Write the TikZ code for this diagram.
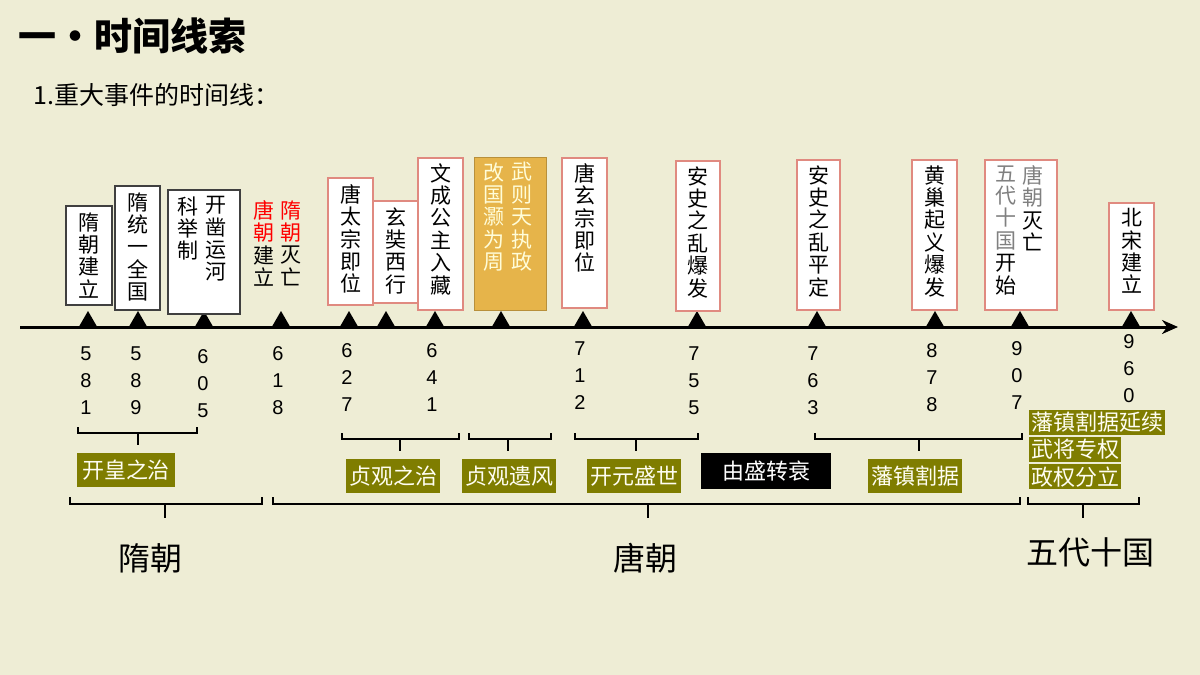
\documentclass[tikz,border=0pt]{standalone}
\usepackage{fontspec}
\setmainfont{Liberation Sans}
\newfontfamily\cjk{Noto Sans CJK SC}
\usetikzlibrary{shapes.geometric,arrows.meta}
\definecolor{bg}{HTML}{EEEDD5}
\definecolor{olive}{HTML}{7F7D00}
\definecolor{pinkb}{HTML}{E08A80}
\definecolor{gold}{HTML}{E6B44A}
\tikzset{
 vt/.style={font=\cjk\fontsize{10.5}{11.2}\selectfont,align=center,inner sep=0pt,anchor=north},
 gbox/.style={draw=black!75,fill=white,line width=0.6pt,inner sep=0pt},
 pbox/.style={draw=pinkb,fill=white,line width=0.6pt,inner sep=0pt},
 tri/.style={fill=black,regular polygon,regular polygon sides=3,inner sep=0pt,minimum size=11pt},
 yr/.style={font=\fontsize{10}{13.5}\selectfont,align=center,inner sep=0pt,anchor=north},
 lab/.style={fill=olive,text=white!95!yellow,font=\cjk\fontsize{11}{12}\selectfont,inner sep=1pt},
 brk/.style={line width=1.2pt},
 big/.style={font=\cjk\fontsize{16}{18}\selectfont,inner sep=0pt}
}
\newcommand{\bx}[6]{\node[#1,minimum width=#4*0.5pt,minimum height=#5*0.5pt] (#6) at (#2,#3) {};}
\begin{document}
\begin{tikzpicture}[x=0.5pt,y=-0.5pt]
\fill[bg] (0,0) rectangle (1200,675);
\useasboundingbox (0,0) rectangle (1200,675);
\node[font=\cjk\bfseries\fontsize{19}{20}\selectfont,anchor=west,inner sep=0pt] (title) at (18,36) {一·时间线索};
\node[font=\cjk\fontsize{12.5}{14}\selectfont,anchor=west,inner sep=0pt] (sub) at (33,95) {1.重大事件的时间线：};
% axis
\coordinate (a0) at (20,327); \coordinate (a1) at (1178,327);
\draw[line width=1.5pt,-{Stealth[length=8pt,width=7pt]}] (a0) -- (a1);
% triangles
\foreach \x/\n in {88/t1,138/t2,204/t3,281/t4,349/t5,386/t6,435/t7,501/t8,583/t9,697/t10,817/t11,935/t12,1020/t13,1131/t14}
  \node[tri] (\n) at (\x,322) {};
% boxes
\bx{gbox}{89}{255.5}{46}{99}{b1}
\node[vt] at (89,212) {隋\\朝\\建\\立};
\bx{gbox}{137.5}{248}{45}{124}{b2}
\node[vt] at (137.5,192) {隋\\统\\一\\全\\国};
\bx{gbox}{204}{252}{72}{124}{b3}
\node[vt] at (216,196) {开\\凿\\运\\河};
\node[vt] at (188,196) {科\\举\\制};
\node[vt] at (291,200) {\textcolor{red}{隋}\\\textcolor{red}{朝}\\灭\\亡};
\node[vt] (b4) at (264,200) {\textcolor{red}{唐}\\\textcolor{red}{朝}\\建\\立};
\bx{pbox}{350.5}{241.5}{45}{127}{b5}
\node[vt] at (350.5,184) {唐\\太\\宗\\即\\位};
\bx{pbox}{395.5}{252}{45}{102}{b6}
\node[vt] at (395.5,207) {玄\\奘\\西\\行};
\bx{pbox}{440.5}{234}{45}{152}{b7}
\node[vt] at (440.5,163) {文\\成\\公\\主\\入\\藏};
\node[fill=gold,draw=gold!80!black,line width=0.4pt,minimum width=36pt,minimum height=76.5pt,inner sep=0pt] (b8) at (510,233.5) {};
\node[vt,text=white!85!yellow] at (522,162) {武\\则\\天\\执\\政};
\node[vt,text=white!85!yellow] at (494,162) {改\\国\\灏\\为\\周};
\bx{pbox}{584.5}{233}{45}{150}{b9}
\node[vt] at (584.5,163) {唐\\玄\\宗\\即\\位};
\bx{pbox}{698}{236}{44}{150}{b10}
\node[vt] at (698,166) {安\\史\\之\\乱\\爆\\发};
\bx{pbox}{818.5}{235}{43}{150}{b11}
\node[vt] at (818.5,165) {安\\史\\之\\乱\\平\\定};
\bx{pbox}{934.5}{235}{45}{150}{b12}
\node[vt] at (934.5,165) {黄\\巢\\起\\义\\爆\\发};
\bx{pbox}{1021}{235}{72}{150}{b13}
\node[vt] at (1033,165) {\textcolor{gray}{唐}\\\textcolor{gray}{朝}\\灭\\亡};
\node[vt] at (1006,165) {\textcolor{gray}{五}\\\textcolor{gray}{代}\\\textcolor{gray}{十}\\\textcolor{gray}{国}\\开\\始};
\bx{pbox}{1131.5}{256.5}{45}{107}{b14}
\node[vt] at (1131.5,208) {北\\宋\\建\\立};
% years
\foreach \x/\y/\t in {86/346/5\\8\\1,136/346/5\\8\\9,203/349/6\\0\\5,278/346/6\\1\\8,347/343/6\\2\\7,432/343/6\\4\\1,580/341/7\\1\\2,694/346/7\\5\\5,813/346/7\\6\\3,932/343/8\\7\\8,1017/341/9\\0\\7,1129/334/9\\6\\0}
  \node[yr] at (\x,\y) {\t};
% small brackets
\foreach \l/\r/\m/\y/\n in {78/197/138/433/k1,342/459/400/439/k2,469/551/508/439/k3,575/698/636/439/k4,815/1022/919/439/k5}{
  \draw[brk] (\l,\y-6) -- (\l,\y) -- (\r,\y) -- (\r,\y-6);
  \coordinate (\n) at (\m,\y+12);
  \draw[brk] (\m,\y) -- (\n);
}
\node[lab,minimum width=49pt,minimum height=17pt] (l1) at (126,470) {开皇之治};
\node[lab,minimum width=47pt,minimum height=17pt] (l2) at (393,476) {贞观之治};
\node[lab,minimum width=47pt,minimum height=17pt] (l3) at (509,476) {贞观遗风};
\node[lab,minimum width=47pt,minimum height=17pt] (l4) at (634,476) {开元盛世};
\node[fill=black,text=white,font=\cjk\fontsize{11}{12}\selectfont,minimum width=65pt,minimum height=18pt,inner sep=1pt,drop shadow/.style={}] (l5) at (766,471) {由盛转衰};
\node[lab,minimum width=47pt,minimum height=17pt] (l6) at (915,476) {藩镇割据};
\node[lab,anchor=north west] (l7) at (1029,410) {藩镇割据延续};
\node[lab,anchor=north west] (l8) at (1029,437) {武将专权};
\node[lab,anchor=north west] (l9) at (1029,464) {政权分立};
% big brackets
\foreach \l/\r/\m/\n in {70/262/165/p1,273/1020/648/p2,1028/1139/1083/p3}{
  \draw[brk] (\l,497) -- (\l,504) -- (\r,504) -- (\r,497);
  \coordinate (\n) at (\m,518);
  \draw[brk] (\m,504) -- (\n);
}
\node[big] (d1) at (150,558) {隋朝};
\node[big] (d2) at (645,558) {唐朝};
\node[big] (d3) at (1090,552) {五代十国};
\end{tikzpicture}
\end{document}
